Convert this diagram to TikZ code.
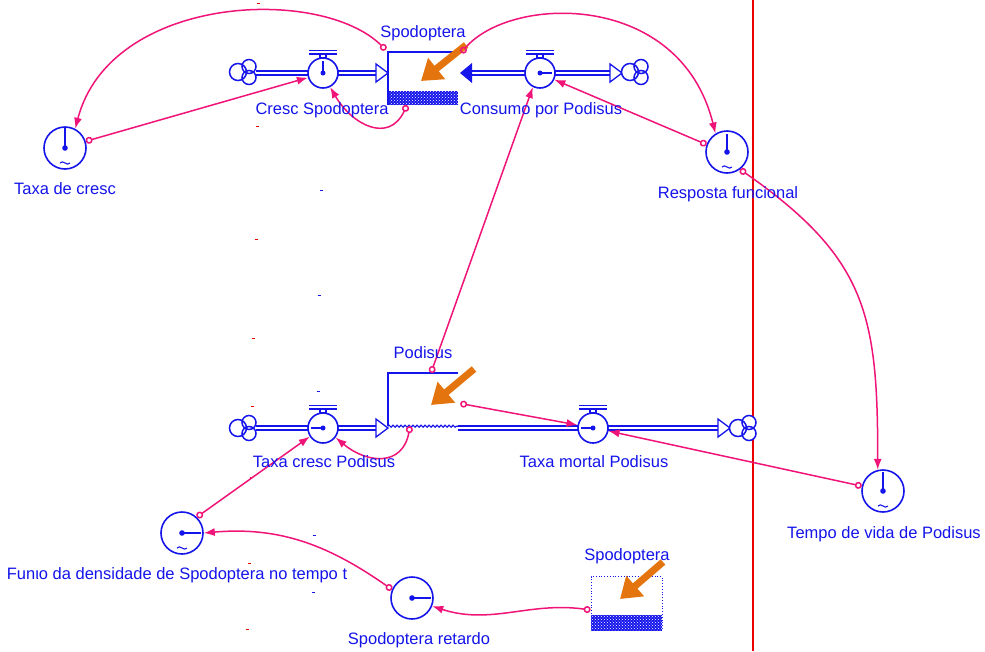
\documentclass[tikz,border=0pt]{standalone}
\usepackage{fontspec}
\setmainfont{Liberation Sans}
\usetikzlibrary{arrows.meta,patterns,decorations.pathmorphing}

\definecolor{vblue}{RGB}{20,20,235}
\definecolor{vpink}{RGB}{240,20,120}
\definecolor{vorange}{RGB}{228,116,14}
\definecolor{vred}{RGB}{235,0,0}

\tikzset{
  lbl/.style={text=vblue, font=\fontsize{16.5}{19}\selectfont, inner sep=0pt},
  conv/.style={circle, draw=vblue, line width=1.6pt, minimum size=42pt, inner sep=0pt},
  valvebody/.style={circle, draw=vblue, line width=1.6pt, minimum size=30pt, inner sep=0pt, fill=white},
  pipe/.style={draw=vblue, line width=1.3pt, double=white, double distance=2.6pt},
  hollowhead/.style={draw=vblue, line width=1.3pt, fill=white, line join=miter},
  cloudspot/.style={minimum width=26pt, minimum height=24pt, inner sep=0pt},
  link/.style={draw=vpink, line width=1.5pt,
               {Circle[open,length=7pt,width=7pt]}-{Latex[length=11pt,width=8pt]}},
  orangearrow/.style={draw=vorange, line width=7pt, -{Triangle[length=20pt,width=26pt]}},
  levelfill/.style={fill=vblue},
  leveldots/.style={pattern=crosshatch dots, pattern color=white},
  speck/.style={line width=1pt},
}

% flow valve: name, x, y, needle angle
\newcommand{\flowvalve}[4]{%
  \node[valvebody] (#1) at (#2,#3) {};
  \draw[vblue, line width=1.2pt, fill=white] (#2-3,#3-15) rectangle (#2+3,#3-19);
  \draw[vblue, line width=1.3pt] (#2-14,#3-19) -- (#2+14,#3-19) (#2-14,#3-22.5) -- (#2+14,#3-22.5);
  \fill[vblue] (#1.center) circle (2.5pt);
  \draw[vblue, line width=1.6pt] (#1.center) -- ++(#4:12pt);
}
% auxiliary variable: name, x, y, needle angle, needle length
\newcommand{\auxvar}[5]{%
  \node[conv] (#1) at (#2,#3) {};
  \fill[vblue] (#1.center) circle (2.8pt);
  \draw[vblue, line width=1.6pt] (#1.center) -- ++(#4:#5pt);
}
% small tilde under the centre of an auxiliary
\newcommand{\lookup}[2]{%
  \draw[vblue, line width=1.1pt] (#1-5,#2+15) .. controls (#1-2,#2+11) and (#1+2,#2+19) .. (#1+5,#2+15);
}
% source / sink cloud: name, x, y
\newcommand{\cloudmark}[3]{%
  \node[cloudspot] (#1) at (#2,#3) {};
  \fill[white] (#2-5,#3) circle (8.5pt) (#2+6,#3-5.5) circle (7pt) (#2+6,#3+5.5) circle (7pt);
  \draw[vblue, line width=1.5pt] (#2-5,#3) circle (8.5pt) (#2+6,#3-5.5) circle (7pt) (#2+6,#3+5.5) circle (7pt);
}

\begin{document}
\begin{tikzpicture}[x=1pt,y=-1pt]
\useasboundingbox[fill=white] (0,0) rectangle (985,651);

% separator line
\draw[vred, line width=1.5pt] (753,0) -- (753,651);

% stray marks
\foreach \px/\py in {258/3,257/126,256/239,253/338,252/406,251/477,249/563,247/629}
  \draw[vred, speck] (\px-1.5,\py) -- (\px+1.5,\py);
\foreach \px/\py in {321/190,319/295,318/391,316/465,314/535,313/592}
  \draw[vblue, speck] (\px-1.5,\py) -- (\px+1.5,\py);

% ---------- stocks ----------
\node[minimum width=70pt, minimum height=53pt, inner sep=0pt] (stockS) at (423,78.5) {};
\fill[levelfill] (388,91) rectangle (458,105);
\fill[leveldots] (388,91) rectangle (458,105);
\draw[vblue, line width=1.6pt] (stockS.south west) |- (stockS.north east);

\node[minimum width=70pt, minimum height=53pt, inner sep=0pt] (stockP) at (423,399.5) {};
\draw[vblue, line width=1.6pt] (stockP.south west) |- (stockP.north east);
\draw[vblue, line width=1.1pt, decorate, decoration={snake, amplitude=1pt, segment length=4pt}]
  (stockP.south west) -- (stockP.south east);

\node[draw=vblue, dotted, line width=0.8pt, minimum width=71pt, minimum height=54pt, inner sep=0pt]
  (ghost) at (626.5,603.5) {};
\fill[levelfill] (591,615) rectangle (662,630.5);
\fill[leveldots] (591,615) rectangle (662,630.5);

% ---------- pipes ----------
\draw[pipe] (256,73) -- (376,73);
\draw[hollowhead] (376,64) -- (388,73) -- (376,82) -- cycle;

\draw[pipe] (472,73) -- (612,73);
\fill[vblue] (472,63) -- (460,73) -- (472,83) -- cycle;
\draw[hollowhead] (610,64) -- (622,73) -- (610,82) -- cycle;

\draw[pipe] (256,428) -- (376,428);
\draw[hollowhead] (376,419) -- (388,428) -- (376,437) -- cycle;

\draw[pipe] (stockP.south east |- 0,428) -- (718,428);
\draw[hollowhead] (718,419) -- (730,428) -- (718,437) -- cycle;

\cloudmark{cloudA}{243}{72}
\cloudmark{cloudB}{635}{72}
\cloudmark{cloudC}{243}{428}
\cloudmark{cloudD}{743}{428}

% ---------- valves ----------
\flowvalve{valveCS}{323}{73}{90}
\flowvalve{valveCP}{540}{73}{0}
\flowvalve{valveTC}{323}{428}{180}
\flowvalve{valveTM}{593}{428}{180}

% ---------- auxiliaries ----------
\auxvar{convTC}{65}{148}{90}{20}
\lookup{65}{148}
\auxvar{convRF}{727}{152}{90}{18}
\lookup{727}{152}
\auxvar{convTV}{883}{491}{90}{19}
\lookup{883}{491}
\auxvar{convFD}{182}{533}{0}{19}
\lookup{182}{533}
\auxvar{convSR}{412}{598}{0}{19}

% ---------- material arrows ----------
\draw[orangearrow] (466,45) -- (421,81);
\draw[orangearrow] (474,369) -- (431,405);
\draw[orangearrow] (663,562) -- (620,599);

% ---------- information links ----------
\draw[link] ([xshift=-2pt,yshift=2pt]stockS.north west) .. controls (320,-15) and (110,-5) .. (convTC.62);
\draw[link] (convTC.18) -- (valveCS.197);
\draw[link] ([xshift=-16pt]stockS.south) to[out=-115,in=-60,looseness=1.4] (valveCS.297);
\draw[link] ([xshift=3pt,yshift=-1pt]stockS.north east) .. controls (510,-5) and (680,-10) .. (convRF.122);
\draw[link] (convRF.160) -- (valveCP.335);
\draw[link] ([xshift=8pt]stockP.north) -- (valveCP.243);
\draw[link] (convRF.-53) to[out=-35,in=90,looseness=1.2] (convTV.104);
\draw[link] (convTV.167) -- (valveTM.349);
\draw[link] ([xshift=2pt,yshift=-4pt]stockP.east) -- (valveTM.169);
\draw[link] ([xshift=-13pt]stockP.south) to[out=-100,in=-40,looseness=1.4] (valveTC.323);
\draw[link] (convFD.47) -- (valveTC.213);
\draw[link] (convSR.157) to[out=145,in=5] (convFD.0);
\draw[link] ([yshift=-6.5pt]ghost.west) to[out=172,in=-18] (convSR.-22);

% ---------- labels ----------
\node[lbl] (lSpodA) at (423,33) {Spodoptera};
\node[lbl] (lCS) at (322,110) {Cresc Spodoptera};
\node[lbl] (lCP) at (541,110) {Consumo por Podisus};
\node[lbl] (lTC) at (65,189) {Taxa de cresc};
\node[lbl] (lRF) at (728,194) {Resposta funcional};
\node[lbl] (lPod) at (423,353) {Podisus};
\node[lbl] (lTCP) at (324,462) {Taxa cresc Podisus};
\node[lbl] (lTMP) at (594,462) {Taxa mortal Podisus};
\node[lbl] (lTV) at (884,534) {Tempo de vida de Podisus};
\node[lbl] (lFD) at (177,575) {Funιo da densidade de Spodoptera no tempo t};
\node[lbl] (lSR) at (419,640) {Spodoptera retardo};
\node[lbl] (lSpodB) at (627,556) {Spodoptera};
\end{tikzpicture}
\end{document}
